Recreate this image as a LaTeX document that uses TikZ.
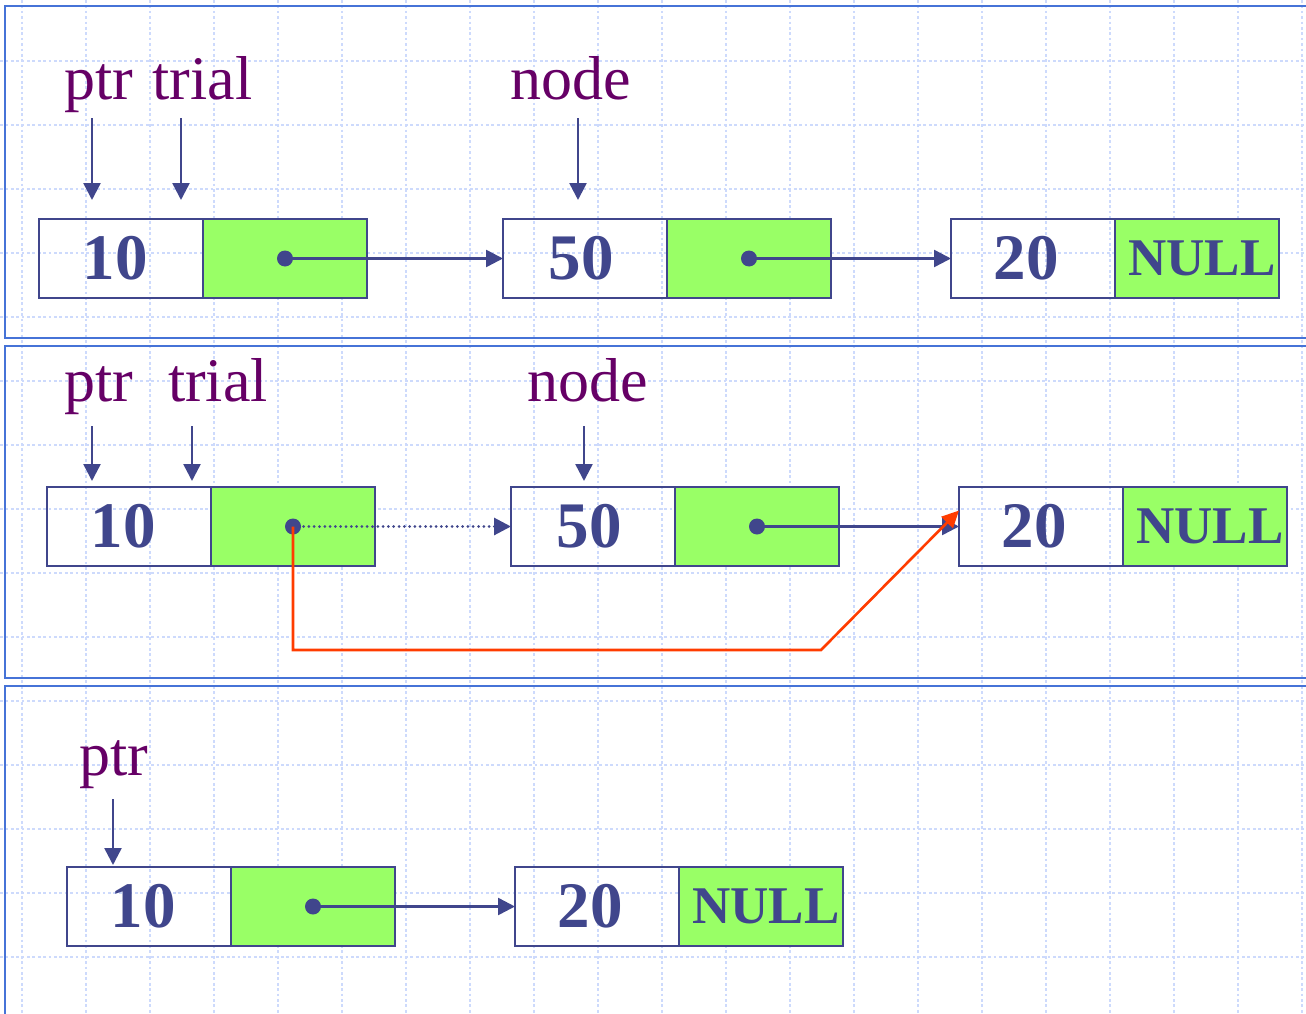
\documentclass[tikz,border=0pt]{standalone}
\usepackage{fontspec}
\setmainfont{Liberation Serif}
\usepackage{xcolor}
\usetikzlibrary{positioning,arrows.meta}
\definecolor{cellblue}{RGB}{64,70,140}
\definecolor{nextgreen}{RGB}{153,255,102}
\definecolor{lblpurple}{RGB}{102,0,102}
\definecolor{redlink}{RGB}{255,60,0}
\definecolor{panelblue}{RGB}{70,115,215}
\definecolor{gridblue}{RGB}{205,218,252}
\tikzset{every picture/.style={line width=2.5pt}}

\begin{document}
\begin{tikzpicture}[x=1pt,y=1pt,yscale=-1,xscale=1,
    cell/.style={draw=cellblue,line width=2.5pt,minimum width=164pt,minimum height=79pt,inner sep=0pt,outer sep=0pt,text=cellblue,font=\fontsize{65}{65}\selectfont\bfseries},
    nextcell/.style={cell,fill=nextgreen,font=\fontsize{53}{53}\selectfont\bfseries},
    lbl/.style={anchor=base,text=lblpurple,inner sep=1pt,text depth=14pt,font=\fontsize{62}{62}\selectfont},
    ptrarrow/.style={draw=cellblue,line width=2.5pt,-{Triangle[length=17pt,width=17pt]}},
    link/.style={ptrarrow},
    dottedlink/.style={ptrarrow,line width=3pt,line cap=round,dash pattern=on 0pt off 5.3pt},
    redpath/.style={draw=redlink,line width=2.6pt,-{Triangle[length=17pt,width=16pt]}},
    gridline/.style={draw=gridblue,line width=1.7pt,dash pattern=on 2.7pt off 2.7pt},
    panel/.style={draw=panelblue,line width=2.4pt}]
    \useasboundingbox (0,0) rectangle (1306,1014);
    \clip (0,0) rectangle (1306,1014);

    % background grid
    \foreach \gx in {0,...,20}
        \draw[gridline] ({21.7+64*\gx},0) -- ({21.7+64*\gx},1014);
    \foreach \gy in {0,...,14}
        \draw[gridline] (0,{60.7+64*\gy}) -- (1306,{60.7+64*\gy});

    % the three frames
    \draw[panel] (5,6) rectangle (1340,338);
    \draw[panel] (5,346) rectangle (1340,678);
    \draw[panel] (5,686) rectangle (1340,1040);

    % first frame: 10 -> 50 -> 20
    \node[cell] (c1a) at (121,258.5) {10\hspace*{12pt}};
    \node[nextcell,right=0pt of c1a] (c1a-nx) {};
    \node[cell] (c1b) at (585,258.5) {50\hspace*{8pt}};
    \node[nextcell,right=0pt of c1b] (c1b-nx) {};
    \node[cell] (c1c) at (1033,258.5) {20\hspace*{14pt}};
    \node[nextcell,right=0pt of c1c] (c1c-nx) {\hspace*{10pt}NULL};
    \fill[cellblue] (c1a-nx.center) circle (8);
    \fill[cellblue] (c1b-nx.center) circle (8);
    \draw[link] (c1a-nx.center) -- (c1b.west);
    \draw[link] (c1b-nx.center) -- (c1c.west);

    \node[lbl] (ptr1) at (99,100) {ptr};
    \node[lbl] (trial1) at (202.5,100) {trial};
    \node[lbl] (node1) at (571,100) {node};
    \coordinate (ptr1tip) at (92,200);
    \coordinate (trial1tip) at (181,200);
    \coordinate (node1tip) at (578,200);
    \draw[ptrarrow,shorten <=2pt] (ptr1.south -| ptr1tip) -- (ptr1tip);
    \draw[ptrarrow,shorten <=2pt] (trial1.south -| trial1tip) -- (trial1tip);
    \draw[ptrarrow,shorten <=2pt] (node1.south -| node1tip) -- (node1tip);

    % second frame: trial->next is moved past node
    \node[cell] (c2a) at (129,526.5) {10\hspace*{12pt}};
    \node[nextcell,right=0pt of c2a] (c2a-nx) {};
    \node[cell] (c2b) at (593,526.5) {50\hspace*{8pt}};
    \node[nextcell,right=0pt of c2b] (c2b-nx) {};
    \node[cell] (c2c) at (1041,526.5) {20\hspace*{14pt}};
    \node[nextcell,right=0pt of c2c] (c2c-nx) {\hspace*{10pt}NULL};
    \draw[dottedlink] (c2a-nx.center) -- (c2b.west);
    \fill[cellblue] (c2a-nx.center) circle (8);
    \fill[cellblue] (c2b-nx.center) circle (8);
    \draw[link] (c2b-nx.center) -- (c2c.west);
    \coordinate (detour) at (821,650);
    \draw[redpath] (c2a-nx.center) |- (detour) -- ([yshift=-16pt]c2c.west);

    \node[lbl] (ptr2) at (99,401) {ptr};
    \node[lbl] (trial2) at (218,401) {trial};
    \node[lbl] (node2) at (587.5,401) {node};
    \coordinate (ptr2tip) at (92,481);
    \coordinate (trial2tip) at (192,481);
    \coordinate (node2tip) at (584,481);
    \draw[ptrarrow,shorten <=9pt] (ptr2.south -| ptr2tip) -- (ptr2tip);
    \draw[ptrarrow,shorten <=9pt] (trial2.south -| trial2tip) -- (trial2tip);
    \draw[ptrarrow,shorten <=9pt] (node2.south -| node2tip) -- (node2tip);

    % third frame: 10 -> 20
    \node[cell] (c3a) at (149,906.5) {10\hspace*{12pt}};
    \node[nextcell,right=0pt of c3a] (c3a-nx) {};
    \node[cell] (c3b) at (597,906.5) {20\hspace*{14pt}};
    \node[nextcell,right=0pt of c3b] (c3b-nx) {\hspace*{10pt}NULL};
    \fill[cellblue] (c3a-nx.center) circle (8);
    \draw[link] (c3a-nx.center) -- (c3b.west);

    \node[lbl] (ptr3) at (113.5,775) {ptr};
    \coordinate (ptr3tip) at (113,865);
    \draw[ptrarrow,shorten <=8pt] (ptr3.south -| ptr3tip) -- (ptr3tip);
\end{tikzpicture}
\end{document}
